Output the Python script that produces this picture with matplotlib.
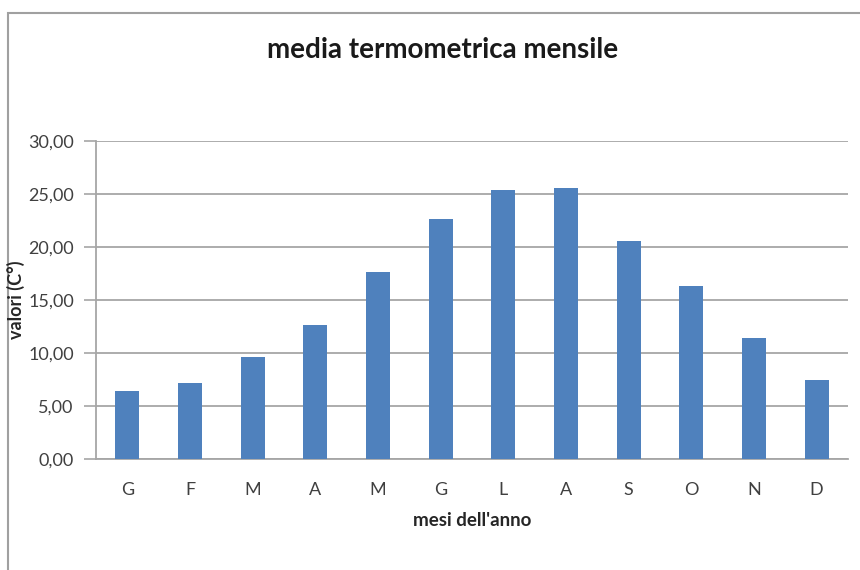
import numpy as np
import matplotlib.pyplot as plt
from matplotlib.patches import Rectangle
from matplotlib.ticker import FuncFormatter

# medie mensili di temperatura
mesi = ['G', 'F', 'M', 'A', 'M', 'G', 'L', 'A', 'S', 'O', 'N', 'D']
temperature = [6.45, 7.2, 9.65, 12.65, 17.7, 22.7, 25.4, 25.6, 20.6, 16.35, 11.45, 7.5]
yticks = [0, 5, 10, 15, 20, 25, 30]

plt.rcParams['font.family'] = ['Lato', 'DejaVu Sans']

fig = plt.figure(figsize=(8.6, 5.7), dpi=100)
ax = fig.add_axes([96/860, 1-459.3/570, 752/860, 318/570])

x = np.arange(len(mesi))
ax.bar(x, temperature, width=0.38, color='#4f81bd', zorder=3)

ax.set_xlim(-0.5, len(mesi)-0.5)
ax.set_ylim(0, 30)
ax.set_yticks(yticks)
ax.yaxis.set_major_formatter(FuncFormatter(lambda v, p: f'{v:.2f}'.replace('.', ',')))
ax.set_xticks(x)
ax.set_xticklabels(mesi)

ax.grid(axis='y', color='#a6a6a6', linewidth=1.3, zorder=0)
for s in ['top', 'right']:
    ax.spines[s].set_visible(False)
for s in ['left', 'bottom']:
    ax.spines[s].set_color('#a6a6a6')
    ax.spines[s].set_linewidth(1.3)

ax.tick_params(axis='y', length=9, width=1.2, color='#a6a6a6', labelsize=13,
               labelcolor='#404040', pad=7)
ax.tick_params(axis='x', length=0, labelsize=13, labelcolor='#404040', pad=16)

fig.text(472/860, 1-521/570, "mesi dell'anno", ha='center', va='center',
         fontsize=13.5, fontweight='bold', color='#262626')
fig.text(16/860, 1-300/570, 'valori (C°)', ha='center', va='center', rotation=90,
         fontsize=13, fontweight='bold', color='#262626')
fig.text(443/860, 1-50/570, 'media termometrica mensile', ha='center', va='center',
         fontsize=20, fontweight='bold', color='#1a1a1a')

# cornice del grafico
fig.patches.append(Rectangle((8/860, -0.05), 1.0, 1-13/570+0.05, transform=fig.transFigure,
                             fill=False, edgecolor='#a0a0a0', linewidth=1.5))

fig.savefig('out.png', dpi=100)
